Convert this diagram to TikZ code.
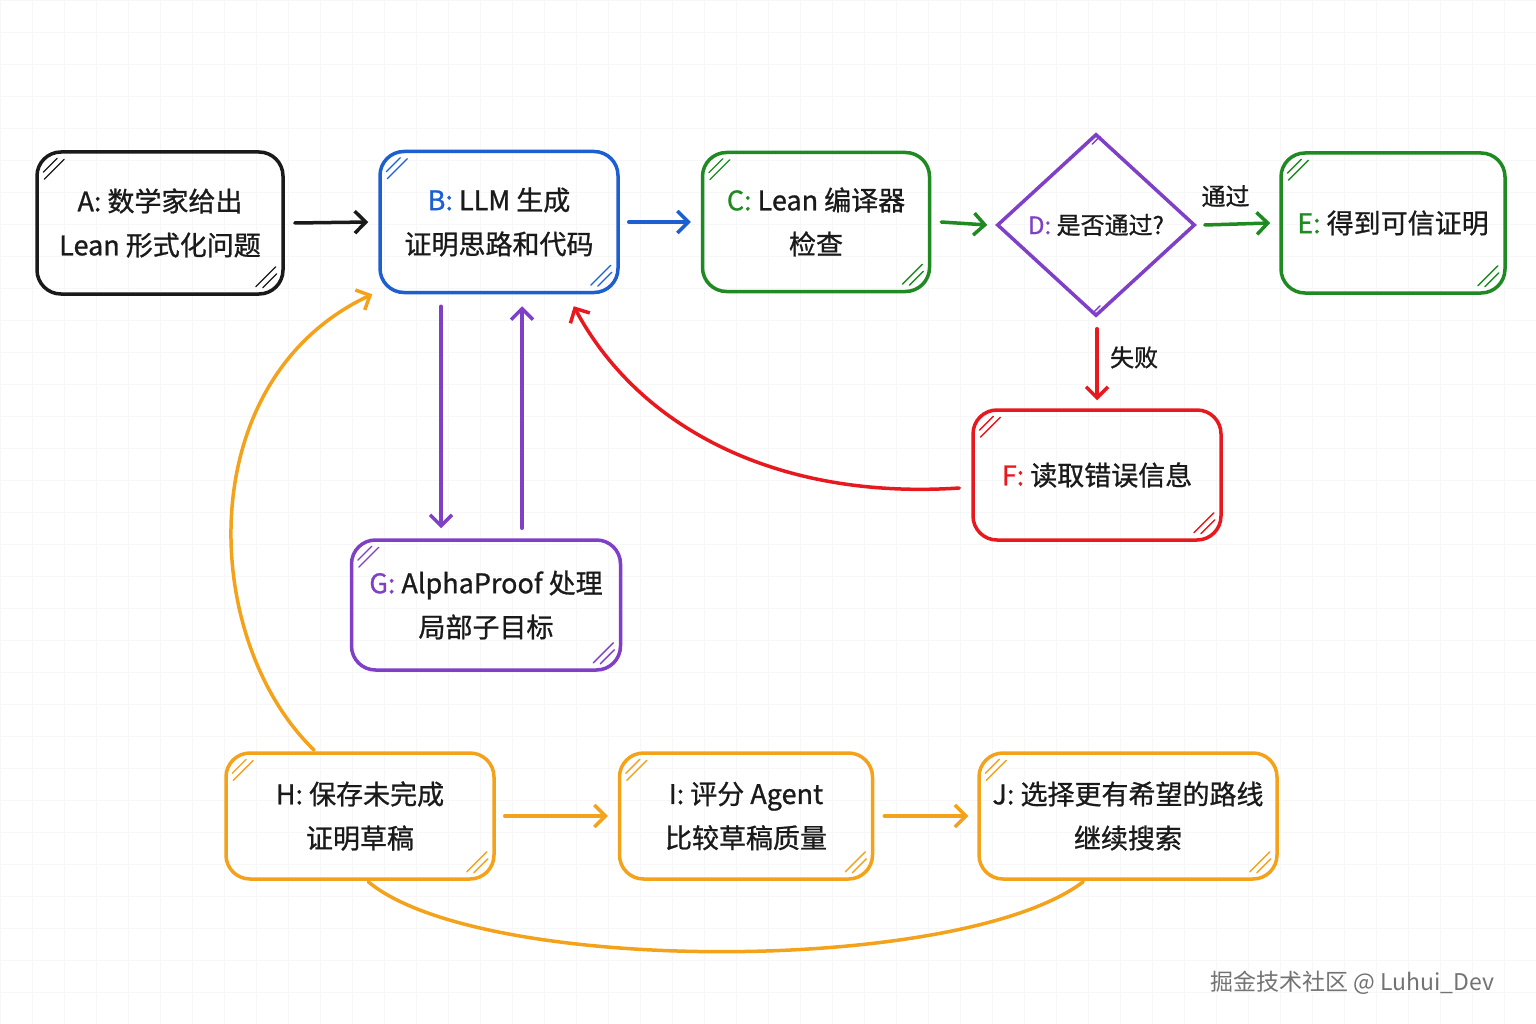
\documentclass[tikz,border=0pt]{standalone}
\usepackage{fontspec}
\setmainfont{Noto Sans CJK SC}[AutoFakeBold=0.9]
\usetikzlibrary{shapes.geometric,arrows.meta,calc}
\definecolor{cblack}{HTML}{1A1A1A}
\definecolor{cblue}{HTML}{1D5FD1}
\definecolor{cgreen}{HTML}{1F8A22}
\definecolor{cpurple}{HTML}{7F3FC6}
\definecolor{cred}{HTML}{E8191E}
\definecolor{corange}{HTML}{F5A21B}
\begin{document}
\begin{tikzpicture}[x=1pt,y=-1pt,
  box/.style={draw, rounded corners=24pt, line width=3.5pt, align=center, inner sep=0pt,
    text=cblack, font=\fontsize{27}{44}\selectfont\bfseries},
  arr/.style={line width=3.5pt, line cap=round,
    -{Straight Barb[length=11pt,width=22pt,line width=3.5pt]}},
  hatch/.style={line width=1.4pt, line cap=round},
  lbl/.style={text=cblack, font=\fontsize{24}{28}\selectfont\bfseries}
]
\useasboundingbox (0,0) rectangle (1536,1024);
\fill[white] (0,0) rectangle (1536,1024);
\draw[black!3, line width=0.6pt] (0,0) grid[step=32pt] (1536,1024);

% nodes
\node[box, draw=cblack, minimum width=246pt, minimum height=142pt] (A) at (160,223)
  {\textcolor{cblack}{A:} 数学家给出\\Lean 形式化问题};
\node[box, draw=cblue, minimum width=238pt, minimum height=141pt] (B) at (499,222)
  {\textcolor{cblue}{B:} LLM 生成\\证明思路和代码};
\node[box, draw=cgreen, minimum width=227pt, minimum height=139pt] (C) at (816,222)
  {\textcolor{cgreen}{C:} Lean 编译器\\检查};
\node[draw=cpurple, shape=diamond, line width=3.5pt, minimum width=198pt, minimum height=182pt,
  inner sep=0pt, text=cblack, font=\fontsize{24}{30}\selectfont\bfseries] (D) at (1096,225)
  {\textcolor{cpurple}{D:} 是否通过?};
\node[box, draw=cgreen, minimum width=224pt, minimum height=140pt] (E) at (1393,223)
  {\textcolor{cgreen}{E:} 得到可信证明};
\node[box, draw=cred, minimum width=248pt, minimum height=130pt] (F) at (1097,475)
  {\textcolor{cred}{F:} 读取错误信息};
\node[box, draw=cpurple, minimum width=269pt, minimum height=130pt] (G) at (486,605)
  {\textcolor{cpurple}{G:} AlphaProof 处理\\局部子目标};
\node[box, draw=corange, minimum width=268pt, minimum height=126pt] (H) at (360,816)
  {H: 保存未完成\\证明草稿};
\node[box, draw=corange, minimum width=253pt, minimum height=126pt] (I) at (746,816)
  {I: 评分 Agent\\比较草稿质量};
\node[box, draw=corange, minimum width=298pt, minimum height=126pt] (J) at (1128,816)
  {J: 选择更有希望的路线\\继续搜索};

% corner hatches
\foreach \n/\c in {A/cblack,B/cblue,C/cgreen,E/cgreen,F/cred,G/cpurple,H/corange,I/corange,J/corange}{
  \draw[hatch,\c] ($(\n.north west)+(8,22)$) -- ($(\n.north west)+(22,8)$);
  \draw[hatch,\c] ($(\n.north west)+(9,29)$) -- ($(\n.north west)+(29,9)$);
  \draw[hatch,\c] ($(\n.south east)+(-8,-22)$) -- ($(\n.south east)+(-22,-8)$);
  \draw[hatch,\c] ($(\n.south east)+(-9,-29)$) -- ($(\n.south east)+(-29,-9)$);
}
\draw[hatch,cpurple] ($(D.north)+(-4,12)$) -- ($(D.north)+(4,4)$);
\draw[hatch,cpurple] ($(D.south)+(-4,-4)$) -- ($(D.south)+(4,-12)$);

% connectors
\draw[arr, cblack] ($(A.east)+(10,0)$) -- ($(B.west)+(-10,0)$);
\draw[arr, cblue] ($(B.east)+(9,0)$) -- ($(C.west)+(-10,0)$);
\draw[arr, cgreen] ($(C.east)+(10,0)$) -- ($(D.west)+(-8,0)$);
\draw[arr, cgreen] ($(D.east)+(8,0)$) -- node[lbl, above=12pt, xshift=-12pt] {通过} ($(E.west)+(-9,0)$);
\draw[arr, cred] ($(D.south)+(1,11)$) -- node[lbl, right=8pt, pos=0.4] {失败} ($(F.north)+(0,-8)$);
\draw[arr, cpurple] ($(B.south)+(-58,12)$) -- ($(G.north)+(-45,-10)$);
\draw[arr, cpurple] ($(G.north)+(36,-10)$) -- ($(B.south)+(23,12)$);
\draw[arr, cred] ($(F.west)+(-12,13)$) .. controls (780,500) and (640,430) .. ($(B.south east)+(-46,12)$);
\draw[arr, corange] ($(H.north west)+(90,-1)$) .. controls (200,640) and (190,380) .. ($(B.south west)+(-6,0)$);
\draw[arr, corange] ($(H.east)+(9,0)$) -- ($(I.west)+(-10,0)$);
\draw[arr, corange] ($(I.east)+(10,0)$) -- ($(J.west)+(-9,0)$);
\draw[line width=3.5pt, line cap=round, corange] ($(J.south west)+(106,1)$) .. controls (960,975) and (480,975) .. ($(H.south west)+(144,1)$);

% watermark
\node[text=black!55, font=\fontsize{23}{26}\selectfont] (W) at (1352,983) {掘金技术社区 @ Luhui\_Dev};
\end{tikzpicture}
\end{document}
